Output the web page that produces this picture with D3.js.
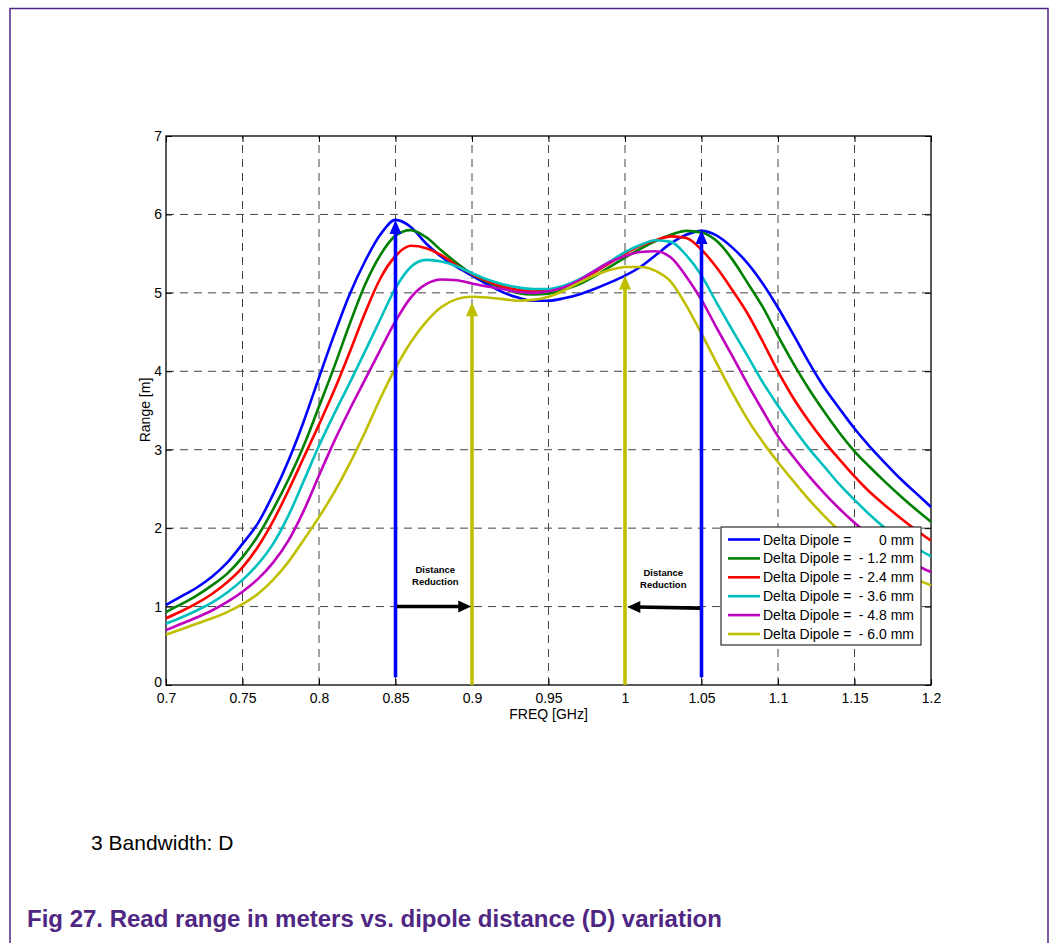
<!DOCTYPE html>
<html>
<head>
<meta charset="utf-8">
<script src="https://cdn.jsdelivr.net/npm/d3@7/dist/d3.min.js"></script>
<style>
  body { margin: 0; background: #fff; }
  svg { display: block; font-family: "Liberation Sans", Arial, sans-serif; }
</style>
</head>
<body>
<div id="chart"></div>
<script>
// frequency samples [GHz]
const freq = [0.70,0.71,0.72,0.73,0.74,0.75,0.76,0.77,0.78,0.79,0.80,0.81,0.82,0.83,0.84,0.85,0.86,0.87,0.88,0.89,
  0.90,0.91,0.92,0.93,0.94,0.95,0.96,0.97,0.98,0.99,1.00,1.01,1.02,1.03,1.04,1.05,1.06,1.07,1.08,1.09,
  1.10,1.11,1.12,1.13,1.14,1.15,1.16,1.17,1.18,1.19,1.20];

// read range [m] for each dipole delta
const range00 = [1.02,1.13,1.24,1.38,1.56,1.80,2.06,2.43,2.86,3.36,3.92,4.47,4.98,5.40,5.74,5.93,5.84,5.63,5.46,5.33,
  5.22,5.11,5.01,4.94,4.90,4.90,4.93,4.98,5.05,5.13,5.22,5.33,5.48,5.63,5.74,5.79,5.73,5.58,5.38,5.12,
  4.81,4.47,4.12,3.80,3.53,3.27,3.04,2.83,2.63,2.45,2.27];
const range12 = [0.93,1.03,1.14,1.27,1.42,1.63,1.90,2.24,2.62,3.05,3.55,4.06,4.60,5.10,5.48,5.73,5.80,5.71,5.54,5.38,
  5.24,5.14,5.06,5.00,4.98,4.99,5.04,5.11,5.21,5.33,5.45,5.56,5.66,5.74,5.79,5.77,5.66,5.43,5.13,4.82,
  4.45,4.10,3.78,3.49,3.22,2.98,2.78,2.59,2.41,2.24,2.08];
const range24 = [0.85,0.94,1.04,1.16,1.31,1.50,1.76,2.09,2.48,2.90,3.32,3.76,4.24,4.74,5.18,5.47,5.60,5.57,5.48,5.35,
  5.24,5.15,5.08,5.04,5.02,5.03,5.08,5.16,5.26,5.38,5.50,5.60,5.67,5.72,5.70,5.55,5.32,5.04,4.74,4.38,
  4.00,3.66,3.37,3.11,2.88,2.66,2.46,2.29,2.13,1.98,1.84];
const range36 = [0.78,0.86,0.95,1.05,1.18,1.34,1.54,1.80,2.16,2.60,3.05,3.46,3.85,4.25,4.66,5.06,5.33,5.42,5.40,5.34,
  5.25,5.17,5.11,5.07,5.05,5.05,5.09,5.17,5.28,5.40,5.52,5.61,5.67,5.65,5.48,5.22,4.87,4.53,4.20,3.86,
  3.56,3.28,3.02,2.79,2.56,2.36,2.17,2.00,1.87,1.75,1.64];
const range48 = [0.70,0.78,0.86,0.95,1.06,1.19,1.35,1.56,1.84,2.22,2.67,3.11,3.51,3.89,4.27,4.64,4.94,5.11,5.17,5.16,
  5.12,5.08,5.05,5.01,5.00,5.02,5.07,5.16,5.28,5.39,5.47,5.52,5.53,5.45,5.21,4.91,4.55,4.20,3.84,3.50,
  3.17,2.91,2.67,2.45,2.25,2.07,1.91,1.77,1.64,1.53,1.44];
const range60 = [0.64,0.71,0.78,0.85,0.93,1.03,1.16,1.34,1.57,1.85,2.14,2.46,2.82,3.22,3.65,4.04,4.37,4.63,4.82,4.92,
  4.95,4.94,4.92,4.90,4.91,4.95,5.03,5.13,5.22,5.29,5.33,5.33,5.28,5.14,4.84,4.48,4.10,3.73,3.39,3.10,
  2.84,2.60,2.37,2.16,1.97,1.81,1.67,1.55,1.44,1.35,1.27];

const seriesValues = [range00, range12, range24, range36, range48, range60];
const seriesLabels = ["0 mm", "- 1.2 mm", "- 2.4 mm", "- 3.6 mm", "- 4.8 mm", "- 6.0 mm"];
const seriesColors = ["#0000ff", "#008000", "#ff0000", "#00bfbf", "#bf00bf", "#bfbf00"];

const xTicks = [0.7,0.75,0.8,0.85,0.9,0.95,1,1.05,1.1,1.15,1.2];
const yTicks = [0,1,2,3,4,5,6,7];

// annotation arrows (data units)
const upArrows = [
  {f: 0.85, from: 0.1, to: 5.93, color: "#0000ff"},
  {f: 1.05, from: 0.1, to: 5.80, color: "#0000ff"},
  {f: 0.90, from: 0.0, to: 4.88, color: "#bfbf00"},
  {f: 1.00, from: 0.0, to: 5.22, color: "#bfbf00"}
];
const sideArrows = [
  {v0: 1.00, v1: 1.00, from: 0.851, to: 0.8995},
  {v0: 0.98, v1: 0.995, from: 1.049, to: 1.0015}
];
const notes = [{f: 0.876, v: 1.43}, {f: 1.025, v: 1.39}];

const W = 1052, H = 943;
const svg = d3.select("#chart").append("svg").attr("width", W).attr("height", H);

// page frame
svg.append("rect")
  .attr("x", 10).attr("y", 8.5).attr("width", 1038).attr("height", 980)
  .attr("fill", "none").attr("stroke", "#4f2683").attr("stroke-width", 1.5);

const x = d3.scaleLinear().domain([0.7, 1.2]).range([166, 931]);
const y = d3.scaleLinear().domain([0, 7]).range([685, 136]);

// dashed grid
const grid = svg.append("g").attr("stroke", "#444").attr("stroke-width", 1).attr("stroke-dasharray", "8,6");
grid.selectAll(".vg").data(xTicks.slice(1, -1)).join("line")
  .attr("x1", d => x(d)).attr("x2", d => x(d)).attr("y1", y(0)).attr("y2", y(7));
grid.selectAll(".hg").data(yTicks.slice(1, -1)).join("line")
  .attr("x1", x(0.7)).attr("x2", x(1.2)).attr("y1", d => y(d)).attr("y2", d => y(d));

// axes, ticks pointing inward
const fmt = d => String(d);
const axB = svg.append("g").attr("transform", `translate(0,${y(0)})`)
  .call(d3.axisBottom(x).tickValues(xTicks).tickSizeInner(-6).tickSizeOuter(0).tickPadding(8).tickFormat(fmt));
const axT = svg.append("g").attr("transform", `translate(0,${y(7)})`)
  .call(d3.axisTop(x).tickValues(xTicks).tickSizeInner(-6).tickSizeOuter(0).tickFormat(""));
const axL = svg.append("g").attr("transform", `translate(${x(0.7)},0)`)
  .call(d3.axisLeft(y).tickValues(yTicks).tickSizeInner(-6).tickSizeOuter(0).tickPadding(4).tickFormat(fmt));
const axR = svg.append("g").attr("transform", `translate(${x(1.2)},0)`)
  .call(d3.axisRight(y).tickValues(yTicks).tickSizeInner(-6).tickSizeOuter(0).tickFormat(""));
[axB, axT, axL, axR].forEach(a => {
  a.select(".domain").remove();
  a.selectAll("text").attr("font-size", 14).attr("fill", "#000")
    .attr("font-family", "Liberation Sans, Arial, sans-serif");
  a.selectAll("line").attr("stroke", "#000");
});
// lift the y "0" a touch so it clears the x "0.7"
axL.selectAll(".tick text").filter(d => d === 0).attr("dy", "0.1em");

svg.append("rect")
  .attr("x", x(0.7)).attr("y", y(7)).attr("width", x(1.2) - x(0.7)).attr("height", y(0) - y(7))
  .attr("fill", "none").attr("stroke", "#000").attr("stroke-width", 1.3);

svg.append("text").attr("x", (x(0.7) + x(1.2)) / 2).attr("y", 719)
  .attr("text-anchor", "middle").attr("font-size", 14).text("FREQ [GHz]");
svg.append("text").attr("transform", "translate(150,410) rotate(-90)")
  .attr("text-anchor", "middle").attr("font-size", 14).text("Range [m]");

// curves
const line = d3.line().x((d, i) => x(freq[i])).y(d => y(d)).curve(d3.curveMonotoneX);
svg.append("g").selectAll("path").data(seriesValues).join("path")
  .attr("d", d => line(d))
  .attr("fill", "none")
  .attr("stroke", (d, i) => seriesColors[i])
  .attr("stroke-width", 2.6)
  .attr("stroke-linejoin", "round");

// arrows
const arr = svg.append("g");
upArrows.forEach(a => {
  const px = x(a.f), tip = y(a.to);
  arr.append("line").attr("x1", px).attr("x2", px).attr("y1", y(a.from)).attr("y2", tip + 10)
    .attr("stroke", a.color).attr("stroke-width", 3.6);
  arr.append("path").attr("d", `M${px},${tip}L${px - 6},${tip + 14}L${px + 6},${tip + 14}Z`)
    .attr("fill", a.color);
});
sideArrows.forEach(a => {
  const x0 = x(a.from), x1 = x(a.to), y0 = y(a.v0), y1 = y(a.v1);
  const dir = Math.sign(x1 - x0);
  arr.append("line").attr("x1", x0).attr("x2", x1 - dir * 10).attr("y1", y0).attr("y2", y1)
    .attr("stroke", "#000").attr("stroke-width", 3.6);
  arr.append("path").attr("d", `M${x1},${y1}L${x1 - dir * 13},${y1 - 6}L${x1 - dir * 13},${y1 + 6}Z`)
    .attr("fill", "#000");
});
notes.forEach(n => {
  const t = svg.append("text").attr("x", x(n.f)).attr("y", y(n.v))
    .attr("text-anchor", "middle").attr("font-size", 9.5).attr("font-weight", "bold");
  t.append("tspan").attr("x", x(n.f)).text("Distance");
  t.append("tspan").attr("x", x(n.f)).attr("dy", 12).text("Reduction");
});

// legend
const lg = svg.append("g").attr("transform", "translate(721,527)");
lg.append("rect").attr("width", 200).attr("height", 118).attr("fill", "#fff").attr("stroke", "#000");
seriesLabels.forEach((lab, i) => {
  const ly = 12.5 + i * 18.9;
  lg.append("line").attr("x1", 7).attr("x2", 39).attr("y1", ly).attr("y2", ly)
    .attr("stroke", seriesColors[i]).attr("stroke-width", 2.6);
  lg.append("text").attr("x", 42).attr("y", ly + 5).attr("font-size", 14).text("Delta Dipole =");
  lg.append("text").attr("x", 193).attr("y", ly + 5).attr("font-size", 14)
    .attr("text-anchor", "end").text(lab);
});

// page text under the figure
svg.append("text").attr("x", 91).attr("y", 850).attr("font-size", 21).text("3 Bandwidth: D");
svg.append("text").attr("x", 27).attr("y", 927).attr("font-size", 24).attr("font-weight", "bold")
  .attr("fill", "#4f2683").text("Fig 27. Read range in meters vs. dipole distance (D) variation");
</script>
</body>
</html>
